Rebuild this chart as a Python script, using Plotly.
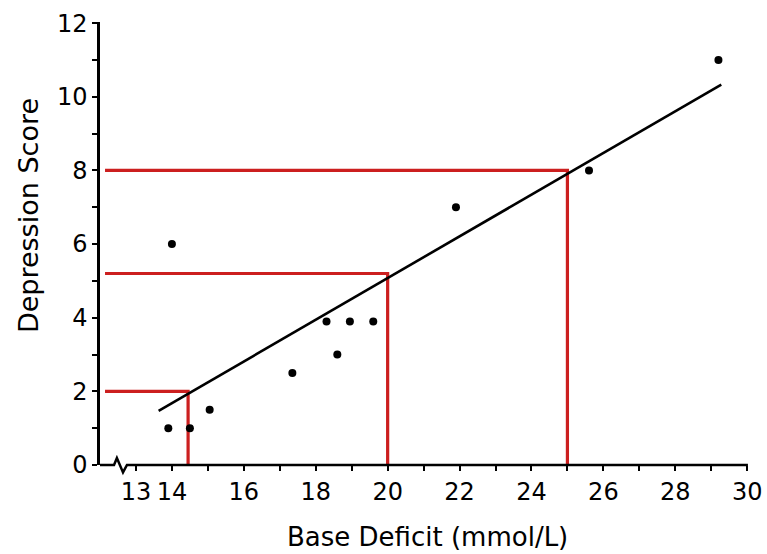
import plotly.graph_objects as go

# ---- data ----
base_deficit = [13.9, 14.5, 15.05, 14.0, 17.35, 18.3, 18.6, 18.95, 19.6, 21.9, 25.6, 29.2]
depression = [1.0, 1.0, 1.5, 6.0, 2.5, 3.9, 3.0, 3.9, 3.9, 7.0, 8.0, 11.0]

fit_x = [13.63, 29.28]
fit_y = [1.47, 10.33]

guide_x = [14.45, 20.0, 25.0]
guide_y = [2.0, 5.2, 8.0]

x_tick_vals = list(range(13, 31))
x_tick_text = ["13", "14", "", "16", "", "18", "", "20", "", "22", "", "24",
               "", "26", "", "28", "", "30"]
y_tick_vals = list(range(0, 13))
y_tick_text = ["0", "", "2", "", "4", "", "6", "", "8", "", "10", "", "12"]

x_title = "Base Deficit (mmol/L)"
y_title = "Depression Score"

X_RANGE = [12.0, 30.05]
Y_RANGE = [0.0, 12.03]
GUIDE_START = 12.14

RED = "#cc1f1f"
FONT = "DejaVu Sans"


def paper_x(v):
    return (v - X_RANGE[0]) / (X_RANGE[1] - X_RANGE[0])


def paper_y(v):
    return (v - Y_RANGE[0]) / (Y_RANGE[1] - Y_RANGE[0])


fig = go.Figure()

# red guide lines
for gx, gy in zip(guide_x, guide_y):
    fig.add_trace(go.Scatter(
        x=[GUIDE_START, gx, gx], y=[gy, gy, 0],
        mode="lines", line=dict(color=RED, width=3.2),
        hoverinfo="skip", showlegend=False, cliponaxis=False))

# regression line
fig.add_trace(go.Scatter(
    x=fit_x, y=fit_y, mode="lines",
    line=dict(color="black", width=2.6),
    showlegend=False, cliponaxis=False))

# data points
fig.add_trace(go.Scatter(
    x=base_deficit, y=depression, mode="markers",
    marker=dict(color="black", size=8),
    showlegend=False, cliponaxis=False))

# x axis line with break mark (paper coordinates derived from axis ranges)
brk = [(12.0, 0.0), (12.39, 0.0), (12.47, 0.19), (12.64, -0.2), (12.75, 0.0), (30.02, 0.0)]
path = "M " + " L ".join(f"{paper_x(a):.5f},{paper_y(b):.5f}" for a, b in brk)
fig.add_shape(type="path", path=path, xref="paper", yref="paper",
              line=dict(color="black", width=2.5))

fig.update_layout(
    width=767, height=554,
    margin=dict(l=100, r=18, t=22, b=89),
    paper_bgcolor="white", plot_bgcolor="white",
    font=dict(family=FONT, color="black", size=24),
    xaxis=dict(range=X_RANGE, tickmode="array", tickvals=x_tick_vals,
               ticktext=x_tick_text, ticks="outside", ticklen=5, tickwidth=2,
               tickcolor="black", showgrid=False, zeroline=False, showline=False,
               automargin=False, tickfont=dict(size=24, family=FONT)),
    yaxis=dict(range=Y_RANGE, tickmode="array", tickvals=y_tick_vals,
               ticktext=y_tick_text, ticks="outside", ticklen=5, tickwidth=2,
               tickcolor="black", showgrid=False, zeroline=False, showline=True,
               linecolor="black", linewidth=2.5, automargin=False,
               tickfont=dict(size=24, family=FONT)),
    annotations=[
        dict(text=x_title, xref="paper", yref="paper", x=0.504, y=-0.163,
             xanchor="center", yanchor="middle", showarrow=False,
             font=dict(size=26, family=FONT)),
        dict(text=y_title, xref="paper", yref="paper", x=-0.111, y=0.564,
             xanchor="center", yanchor="middle", showarrow=False, textangle=-90,
             font=dict(size=27, family=FONT)),
    ],
)

fig.write_html(
    "out.html",
    config={"displayModeBar": False},
    post_script="document.body.style.margin='0';document.body.style.overflow='hidden';",
)
